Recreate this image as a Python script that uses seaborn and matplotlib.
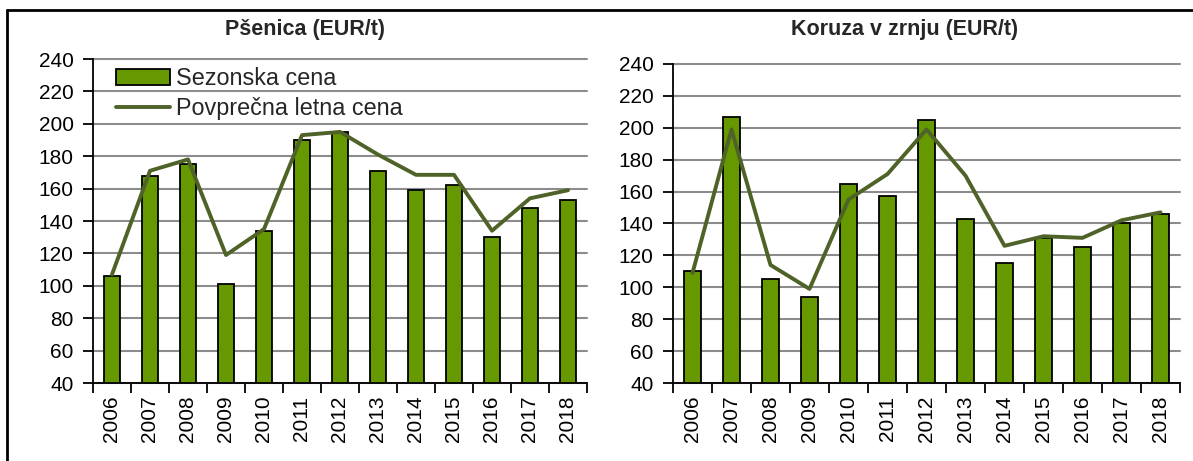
import numpy as np
import pandas as pd
import matplotlib
matplotlib.use("Agg")
import matplotlib.pyplot as plt
import seaborn as sns
from matplotlib.lines import Line2D

# data
years = [str(y) for y in range(2006, 2019)]
psenica_sezonska = [106, 168, 175, 101, 134, 190, 195, 171, 159, 162, 130, 148, 153]
psenica_povprecna = [107, 171, 178, 119, 135, 193, 195, 181, 168.5, 168.5, 134, 154, 159]
koruza_sezonska = [110, 207, 105, 94, 165, 157, 205, 143, 115, 131, 125, 140, 146]
koruza_povprecna = [109, 199, 114, 99, 155, 171, 199, 170, 126, 132, 131, 142, 147]
yticks = list(range(40, 241, 20))

bar_color = "#669900"
line_color = "#4F6228"
grid_color = "#8c8c8c"

sns.set_theme(style="white")
plt.rcParams["font.family"] = ["Liberation Sans", "DejaVu Sans"]

W, H = 1193, 461
fig = plt.figure(figsize=(W / 100, H / 100), dpi=100)


def panel(rect, sezonska, povprecna, title, title_x, show_legend):
    ax = fig.add_axes(rect)
    df = pd.DataFrame({"leto": years, "sezonska": sezonska, "povprecna": povprecna})
    sns.barplot(data=df, x="leto", y="sezonska", ax=ax, color=bar_color,
                saturation=1, edgecolor="black", linewidth=1.3, width=0.44,
                label="Sezonska cena", zorder=2)
    sns.lineplot(x=np.arange(len(years)), y=df["povprecna"], ax=ax,
                 color=line_color, linewidth=2.8, label="Povprečna letna cena",
                 zorder=3)
    ax.set_xlim(-0.5, len(years) - 0.5)
    ax.set_ylim(40, 240)
    ax.set_yticks(yticks)
    ax.set_xticks(range(len(years)))
    ax.set_xticklabels(years, rotation=90)
    ax.set_xticks(np.arange(-0.5, len(years)), minor=True)
    ax.set_xlabel("")
    ax.set_ylabel("")
    ax.tick_params(axis="x", which="major", length=0, pad=9, labelsize=15,
                   colors="black")
    ax.tick_params(axis="x", which="minor", length=7, width=1.3,
                   direction="out", color="black", bottom=True)
    ax.tick_params(axis="y", length=7, width=1.3, direction="out", pad=7,
                   labelsize=15, colors="black", left=True)
    ax.yaxis.grid(True, color=grid_color, linewidth=1.5)
    ax.xaxis.grid(False)
    ax.set_axisbelow(True)
    for gl in ax.get_ygridlines():
        gl.set_clip_on(False)
    for s in ["top", "right"]:
        ax.spines[s].set_visible(False)
    for s in ["left", "bottom"]:
        ax.spines[s].set_color("black")
        ax.spines[s].set_linewidth(1.3)
        ax.spines[s].set_zorder(4)
    leg = ax.get_legend()
    if leg is not None:
        leg.remove()
    if show_legend:
        handles, labels = ax.get_legend_handles_labels()
        order = [labels.index("Sezonska cena"), labels.index("Povprečna letna cena")]
        ax.legend([handles[i] for i in order], [labels[i] for i in order],
                  loc="upper left", bbox_to_anchor=(0.047, 0.975), frameon=False,
                  fontsize=16.8, handlelength=2.3, handleheight=0.7,
                  handletextpad=0.25, labelspacing=0.3, borderpad=0,
                  borderaxespad=0)
    fig.text(title_x, 1 - 30 / H, title, ha="center", va="center",
             fontsize=15.5, fontweight="bold")
    return ax


panel([93 / W, 1 - 383 / H, 494 / W, 324 / H], psenica_sezonska, psenica_povprecna,
      "Pšenica (EUR/t)", 305 / W, True)
panel([673 / W, 1 - 383 / H, 507 / W, 319 / H], koruza_sezonska, koruza_povprecna,
      "Koruza v zrnju (EUR/t)", 905 / W, False)

# outer frame (top and left edges visible in the reference)
fig.add_artist(Line2D([7 / W, 1], [1 - 10 / H, 1 - 10 / H], transform=fig.transFigure,
                      color="black", linewidth=2))
fig.add_artist(Line2D([7 / W, 7 / W], [0, 1 - 10 / H], transform=fig.transFigure,
                      color="black", linewidth=2))

fig.savefig("out.png", dpi=100)
